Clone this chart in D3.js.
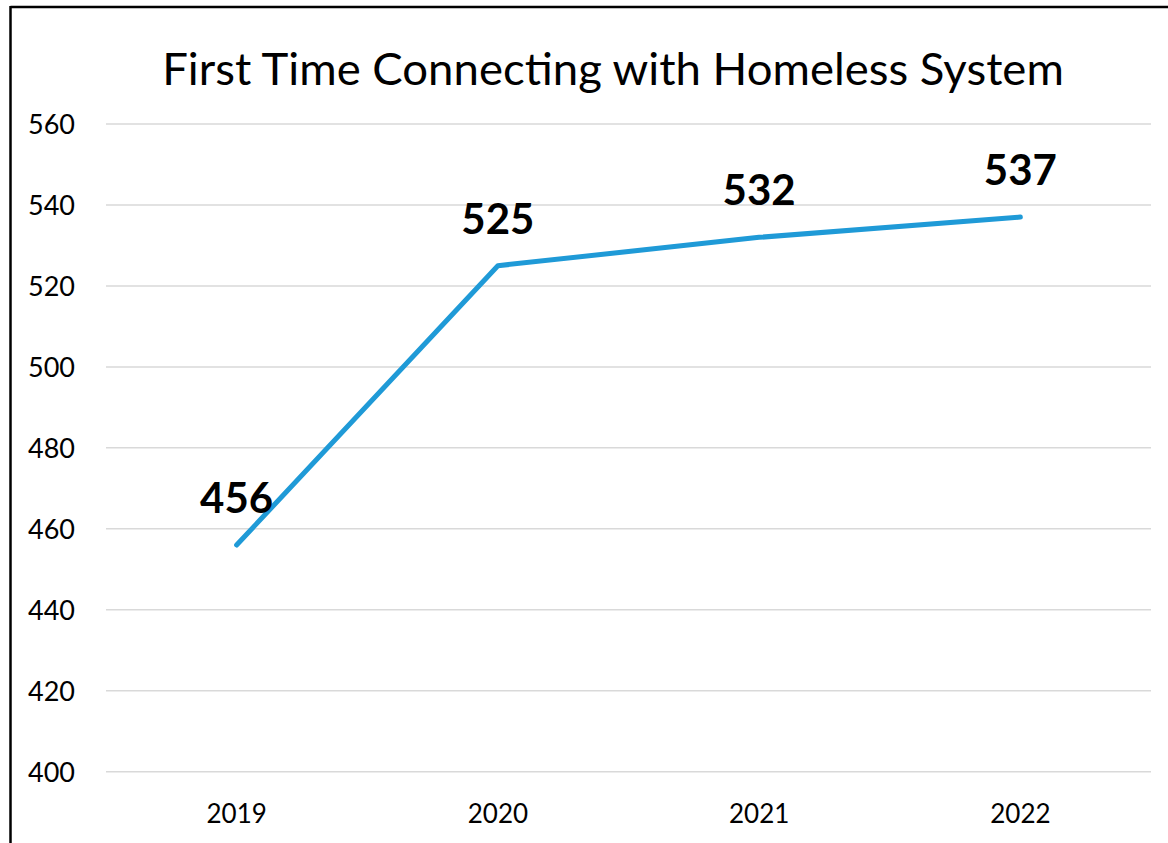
<!DOCTYPE html>
<html>
<head>
<meta charset="utf-8">
<script src="https://cdn.jsdelivr.net/npm/d3@7"></script>
<style>
  html, body { margin: 0; padding: 0; background: #fff; }
  svg { display: block; font-family: Lato, "Open Sans", sans-serif; }
</style>
</head>
<body>
<svg id="chart" width="1168" height="843"></svg>
<script>
// Yearly count of people connecting with the homeless system for the first time
const years = ["2019", "2020", "2021", "2022"];
const firstTimeCounts = [456, 525, 532, 537];
const yTicks = [400, 420, 440, 460, 480, 500, 520, 540, 560];
const chartTitle = "First Time Connecting with Homeless System";

const svg = d3.select("#chart");
const W = 1168, H = 843;

// chart frame (top and left edges visible)
svg.append("line").attr("x1", 10.5).attr("x2", W).attr("y1", 7).attr("y2", 7)
  .attr("stroke", "#000").attr("stroke-width", 2.5);
svg.append("line").attr("x1", 10.5).attr("x2", 10.5).attr("y1", 6).attr("y2", H)
  .attr("stroke", "#000").attr("stroke-width", 2.5);

const plot = { left: 106, right: 1151, top: 124, bottom: 771.7 };

const x = d3.scaleBand().domain(years).range([plot.left, plot.right]);
const y = d3.scaleLinear().domain([400, 560]).range([plot.bottom, plot.top]);

// horizontal gridlines
svg.append("g").selectAll("line").data(yTicks).join("line")
  .attr("x1", plot.left).attr("x2", plot.right)
  .attr("y1", d => y(d)).attr("y2", d => y(d))
  .attr("stroke", "#d9d9d9").attr("stroke-width", 1.5);

// y axis labels
const yAxis = d3.axisLeft(y).tickValues(yTicks).tickSize(0).tickPadding(0);
const gy = svg.append("g").attr("transform", "translate(75,0)").call(yAxis);
gy.select(".domain").remove();
gy.selectAll("text").attr("font-size", 27).attr("fill", "#000")
  .attr("font-family", "Lato, 'Open Sans', sans-serif")
  .attr("x", 0).attr("dy", "0.36em").attr("text-anchor", "end");

// x axis labels
const xAxis = d3.axisBottom(x).tickSize(0).tickPadding(0);
const gx = svg.append("g").attr("transform", `translate(0,${plot.bottom})`).call(xAxis);
gx.select(".domain").remove();
gx.selectAll("text").attr("font-size", 26).attr("fill", "#000")
  .attr("font-family", "Lato, 'Open Sans', sans-serif")
  .attr("y", 51).attr("dy", 0);

// series line
const pts = years.map((yr, i) => ({ yr, v: firstTimeCounts[i] }));
const line = d3.line().x(d => x(d.yr) + x.bandwidth() / 2).y(d => y(d.v));
svg.append("path").datum(pts).attr("d", line)
  .attr("fill", "none").attr("stroke", "#1f9ad7").attr("stroke-width", 5)
  .attr("stroke-linecap", "round").attr("stroke-linejoin", "round");

// value labels
svg.append("g").selectAll("text").data(pts).join("text")
  .attr("x", d => x(d.yr) + x.bandwidth() / 2)
  .attr("y", d => y(d.v) - 32)
  .attr("text-anchor", "middle")
  .attr("font-size", 42).attr("font-weight", "bold").attr("fill", "#000")
  .text(d => d.v);

// title
svg.append("text").attr("text-anchor", "middle")
  .attr("transform", "translate(613,85) scale(1.035,1)")
  .attr("font-size", 44).attr("fill", "#000").text(chartTitle);
</script>
</body>
</html>
